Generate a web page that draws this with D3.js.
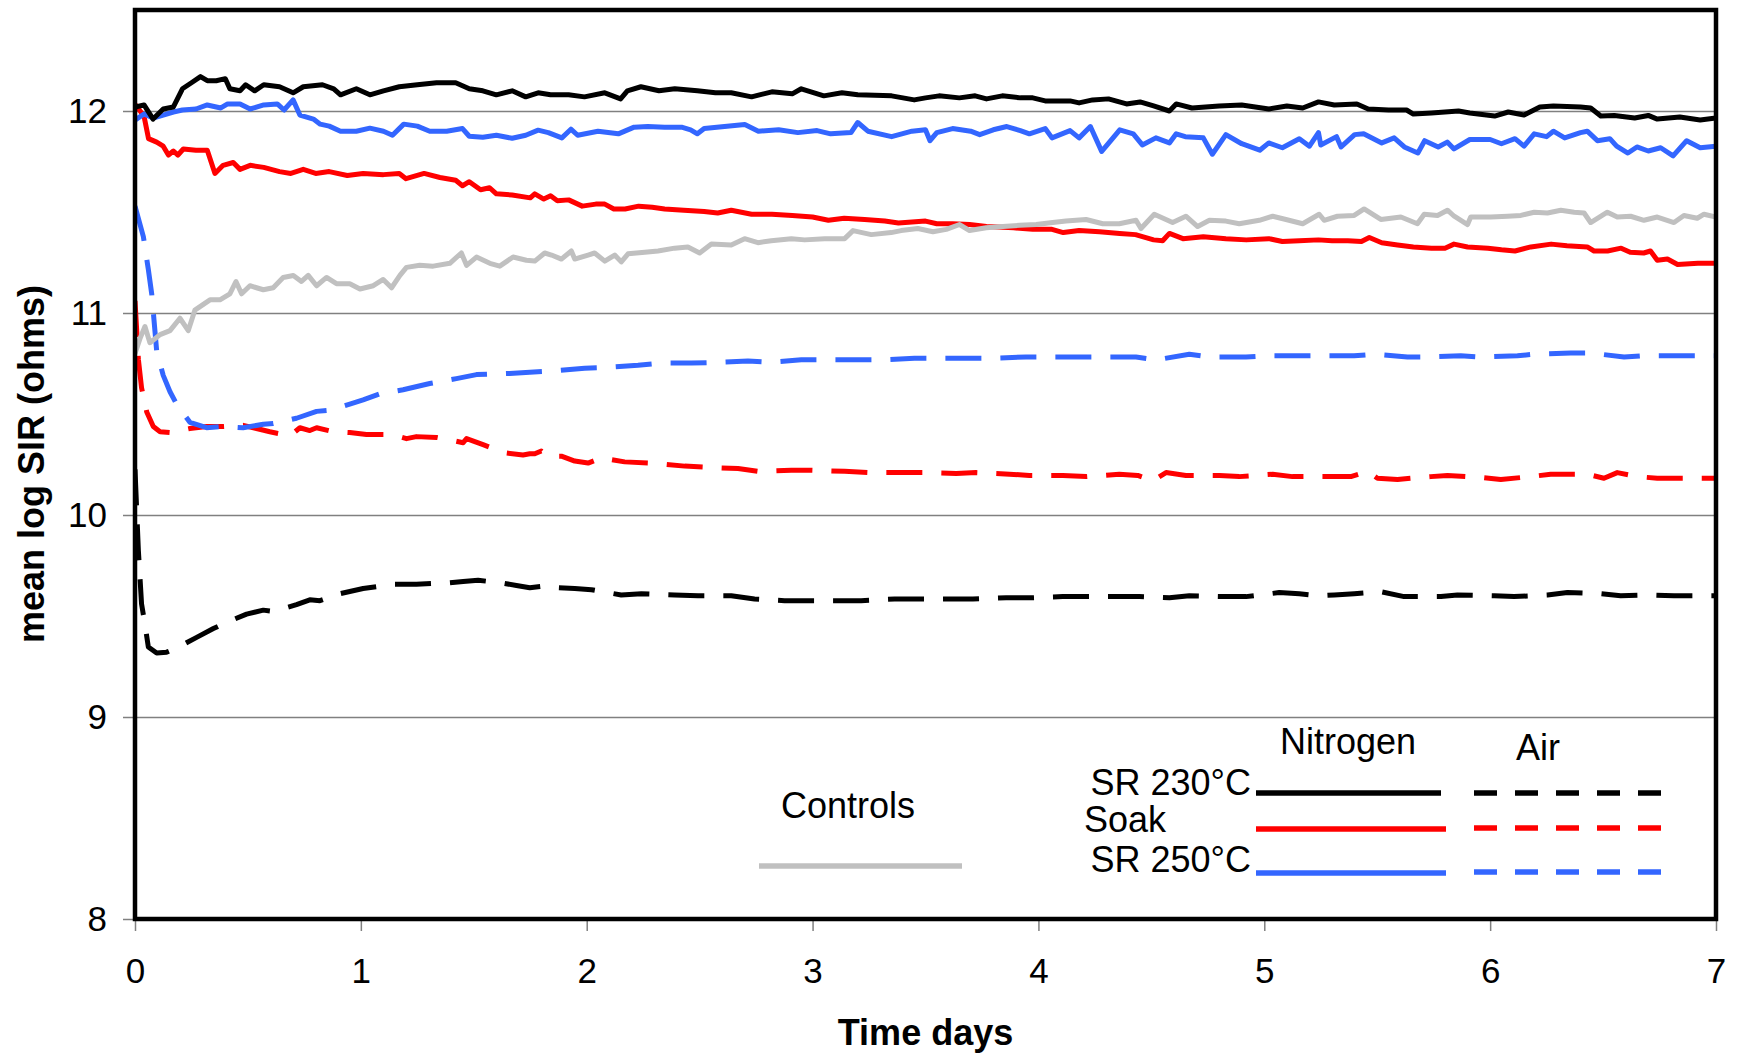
<!DOCTYPE html>
<html>
<head>
<meta charset="utf-8">
<script src="https://cdn.jsdelivr.net/npm/d3@7/dist/d3.min.js"></script>
<style>
body { margin: 0; background: #fff; }
text { font-family: "Liberation Sans", Arial, sans-serif; fill: #000; }
</style>
</head>
<body>
<script>
// tick values
var xTicks = [0, 1, 2, 3, 4, 5, 6, 7];
var yTicks = [8, 9, 10, 11, 12];

// [day, mean log SIR]
var sr230N2 = [[0,12.02],[0.04,12.03],[0.08,11.96],[0.125,12.01],[0.17,12.02],[0.21,12.11],[0.25,12.14],[0.29,12.17],[0.32,12.15],[0.36,12.15],[0.40,12.16],[0.42,12.11],[0.465,12.10],[0.49,12.13],[0.53,12.10],[0.57,12.13],[0.64,12.12],[0.70,12.09],[0.745,12.12],[0.83,12.13],[0.88,12.11],[0.91,12.08],[0.98,12.11],[1.04,12.08],[1.10,12.10],[1.17,12.12],[1.25,12.13],[1.335,12.14],[1.42,12.14],[1.48,12.11],[1.54,12.10],[1.60,12.08],[1.67,12.10],[1.73,12.07],
  [1.785,12.09],[1.84,12.08],[1.92,12.08],[1.99,12.07],[2.08,12.09],[2.15,12.06],[2.18,12.10],[2.24,12.12],[2.32,12.10],[2.39,12.11],[2.49,12.10],[2.57,12.09],[2.64,12.09],[2.73,12.07],[2.82,12.095],[2.91,12.085],[2.95,12.11],[3.05,12.075],[3.13,12.09],[3.20,12.08],[3.35,12.075],[3.45,12.055],[3.50,12.065],
  [3.56,12.075],[3.65,12.065],[3.72,12.075],[3.77,12.06],[3.84,12.075],[3.92,12.065],[3.975,12.065],[4.03,12.05],[4.14,12.05],[4.18,12.04],[4.24,12.055],[4.31,12.06],[4.39,12.035],[4.45,12.045],[4.51,12.025],[4.58,12.0],[4.61,12.035],[4.68,12.015],[4.80,12.025],[4.90,12.03],[5.02,12.01],[5.10,12.025],[5.17,12.015],[5.24,12.045],
  [5.31,12.03],[5.41,12.035],[5.46,12.01],[5.55,12.005],[5.63,12.005],[5.66,11.985],[5.74,11.99],[5.86,12.0],[5.91,11.99],[6.02,11.975],[6.08,11.995],[6.15,11.98],[6.22,12.02],[6.28,12.025],[6.40,12.02],[6.445,12.015],[6.49,11.975],[6.55,11.978],[6.64,11.965],[6.70,11.978],[6.74,11.96],[6.84,11.97],[6.93,11.955],[7.0,11.965]];

var soakN2 = [[0,12.034],[0.04,11.974],[0.06,11.863],[0.096,11.846],[0.125,11.826],[0.148,11.782],[0.17,11.802],[0.19,11.782],[0.214,11.812],[0.27,11.806],[0.32,11.806],[0.354,11.691],[0.39,11.731],[0.435,11.745],[0.465,11.711],[0.51,11.731],[0.57,11.721],[0.64,11.70],[0.69,11.691],[0.745,11.711],[0.80,11.691],[0.86,11.70],[0.94,11.681],[1.01,11.691],[1.10,11.685],[1.17,11.691],[1.20,11.665],[1.28,11.691],[1.35,11.671],[1.42,11.657],[1.45,11.63],[1.48,11.65],[1.53,11.61],[1.57,11.62],[1.60,11.59],[1.67,11.584],[1.75,11.57],
  [1.77,11.59],[1.81,11.564],[1.84,11.58],[1.87,11.556],[1.92,11.56],[1.98,11.529],[2.04,11.539],[2.08,11.539],[2.12,11.515],[2.17,11.515],[2.23,11.529],[2.29,11.523],[2.345,11.515],[2.43,11.509],[2.52,11.503],[2.58,11.495],[2.64,11.509],[2.73,11.489],[2.82,11.489],[2.91,11.483],[3.00,11.475],[3.07,11.459],[3.14,11.469],[3.23,11.463],[3.32,11.455],[3.38,11.446],[3.50,11.455],
  [3.55,11.442],[3.62,11.442],[3.695,11.438],[3.77,11.428],[3.89,11.422],[3.975,11.414],[4.06,11.414],[4.11,11.398],[4.18,11.408],[4.27,11.402],[4.36,11.394],[4.43,11.388],[4.51,11.362],[4.55,11.358],[4.58,11.394],[4.64,11.368],[4.73,11.378],[4.83,11.368],[4.92,11.362],[5.02,11.368],[5.08,11.354],[5.155,11.358],[5.24,11.362],
  [5.30,11.358],[5.37,11.358],[5.43,11.354],[5.465,11.374],[5.52,11.348],[5.59,11.337],[5.66,11.327],[5.74,11.321],[5.80,11.321],[5.84,11.341],[5.90,11.327],[5.99,11.321],[6.05,11.313],[6.11,11.307],[6.18,11.327],[6.27,11.341],[6.34,11.333],[6.43,11.327],[6.46,11.307],[6.52,11.307],[6.58,11.321],[6.62,11.301],[6.68,11.297],[6.71,11.307],[6.74,11.261],[6.785,11.267],[6.83,11.24],[6.92,11.246],[7.0,11.246]];

var sr250N2 = [[0,11.955],[0.04,11.985],[0.08,11.965],[0.125,11.98],[0.17,11.995],[0.21,12.005],[0.27,12.01],[0.32,12.03],[0.38,12.015],[0.41,12.035],[0.465,12.035],[0.51,12.01],[0.57,12.03],[0.63,12.035],[0.66,12.005],[0.70,12.055],[0.73,11.98],[0.79,11.96],[0.82,11.935],[0.86,11.925],[0.91,11.90],[0.98,11.90],[1.04,11.915],[1.10,11.90],[1.14,11.88],[1.19,11.935],[1.25,11.925],[1.305,11.90],[1.38,11.90],[1.45,11.913],[1.48,11.875],[1.54,11.87],[1.60,11.88],[1.67,11.865],[1.73,11.88],
  [1.785,11.905],[1.83,11.893],[1.89,11.867],[1.93,11.91],[1.96,11.88],[2.05,11.90],[2.14,11.887],[2.21,11.92],[2.27,11.923],[2.345,11.92],[2.42,11.92],[2.46,11.907],[2.49,11.887],[2.52,11.913],[2.61,11.923],[2.70,11.933],[2.76,11.90],[2.85,11.907],[2.935,11.893],[3.02,11.903],[3.08,11.887],[3.17,11.893],[3.20,11.943],[3.245,11.90],[3.35,11.873],[3.44,11.90],[3.50,11.907],
  [3.52,11.853],[3.55,11.893],[3.62,11.913],[3.70,11.90],[3.74,11.883],[3.80,11.907],[3.86,11.923],[3.92,11.903],[3.96,11.887],[4.03,11.913],[4.06,11.867],[4.14,11.903],[4.18,11.867],[4.23,11.923],[4.28,11.80],[4.31,11.84],[4.36,11.907],[4.42,11.887],[4.46,11.832],[4.52,11.867],[4.58,11.842],[4.61,11.887],[4.65,11.873],[4.73,11.867],[4.77,11.786],[4.83,11.883],[4.90,11.838],[4.98,11.806],[5.02,11.842],[5.08,11.818],[5.155,11.863],[5.20,11.826],[5.24,11.893],
  [5.25,11.832],[5.32,11.873],[5.34,11.822],[5.40,11.883],[5.44,11.887],[5.52,11.842],[5.575,11.867],[5.62,11.822],[5.68,11.792],[5.71,11.853],[5.77,11.822],[5.81,11.846],[5.84,11.812],[5.91,11.859],[6.00,11.859],[6.05,11.838],[6.11,11.863],[6.15,11.826],[6.195,11.887],[6.25,11.873],[6.28,11.90],[6.33,11.867],[6.40,11.893],[6.43,11.90],[6.475,11.853],[6.53,11.863],[6.56,11.826],[6.61,11.792],[6.65,11.822],[6.70,11.802],[6.755,11.818],[6.81,11.778],[6.87,11.853],[6.93,11.818],[7.0,11.826]];

var controls = [[0,10.80],[0.022,10.873],[0.044,10.933],[0.066,10.853],[0.111,10.893],[0.155,10.913],[0.199,10.974],[0.236,10.913],[0.265,11.014],[0.332,11.065],[0.376,11.065],[0.42,11.095],[0.447,11.156],[0.472,11.095],[0.509,11.135],[0.538,11.125],[0.568,11.115],[0.612,11.125],[0.656,11.176],[0.701,11.186],[0.737,11.156],[0.767,11.186],[0.804,11.135],[0.848,11.176],[0.892,11.145],[0.951,11.145],[0.996,11.119],[1.055,11.135],[1.099,11.166],[1.136,11.125],[1.173,11.186],[1.202,11.226],[1.261,11.236],[1.32,11.232],[1.394,11.246],[1.445,11.297],[1.468,11.236],[1.512,11.277],[1.571,11.246],[1.615,11.232],[1.674,11.277],[1.733,11.261],
  [1.77,11.257],[1.814,11.297],[1.844,11.287],[1.888,11.267],[1.932,11.307],[1.947,11.267],[2.006,11.287],[2.035,11.297],[2.08,11.257],[2.124,11.287],[2.153,11.253],[2.183,11.293],[2.257,11.301],[2.316,11.307],[2.389,11.321],[2.448,11.327],[2.50,11.297],[2.552,11.341],[2.64,11.337],[2.699,11.368],[2.758,11.348],[2.817,11.358],[2.906,11.368],[2.965,11.362],[3.053,11.368],[3.142,11.368],[3.179,11.408],[3.26,11.388],[3.348,11.398],[3.392,11.408],[3.466,11.418],
  [3.533,11.402],[3.592,11.414],[3.651,11.438],[3.695,11.408],[3.769,11.422],[3.842,11.428],[3.916,11.434],[3.99,11.438],[4.063,11.448],[4.122,11.455],[4.211,11.463],[4.285,11.442],[4.358,11.442],[4.432,11.459],[4.454,11.418],[4.513,11.489],[4.594,11.448],[4.653,11.479],[4.705,11.428],[4.757,11.459],[4.83,11.455],[4.889,11.442],[4.978,11.459],[5.037,11.479],[5.096,11.463],[5.17,11.442],[5.243,11.489],
  [5.265,11.459],[5.324,11.479],[5.398,11.483],[5.442,11.515],[5.516,11.463],[5.605,11.475],[5.678,11.442],[5.708,11.489],[5.767,11.483],[5.811,11.509],[5.841,11.479],[5.90,11.438],[5.914,11.475],[6.003,11.475],[6.077,11.479],[6.136,11.483],[6.195,11.499],[6.254,11.495],[6.313,11.509],[6.372,11.499],[6.416,11.495],[6.445,11.448],[6.519,11.499],[6.563,11.475],[6.622,11.479],[6.681,11.459],[6.74,11.475],[6.814,11.448],[6.858,11.483],[6.917,11.469],[6.947,11.489],[7.0,11.475]];

var sr230Air = [[0,10.226],[0.015,9.822],[0.029,9.56],[0.044,9.459],[0.059,9.347],[0.096,9.317],[0.14,9.321],[0.184,9.341],[0.273,9.394],[0.347,9.438],[0.406,9.469],[0.494,9.509],[0.568,9.529],[0.612,9.523],[0.715,9.556],[0.774,9.58],[0.819,9.576],[0.907,9.61],[1.01,9.636],[1.143,9.657],[1.246,9.657],[1.394,9.665],[1.453,9.671],[1.519,9.677],[1.615,9.665],[1.689,9.651],[1.748,9.64],
  [1.829,9.651],[1.873,9.64],[1.947,9.636],[2.021,9.63],[2.153,9.604],[2.242,9.61],[2.389,9.604],[2.493,9.60],[2.64,9.60],[2.743,9.584],[2.876,9.576],[2.979,9.576],[3.127,9.576],[3.215,9.576],[3.363,9.584],[3.466,9.584],
  [3.606,9.584],[3.71,9.584],[3.857,9.59],[3.96,9.59],[4.108,9.596],[4.196,9.596],[4.344,9.596],[4.447,9.596],[4.58,9.59],[4.668,9.60],[4.816,9.596],[4.919,9.596],[5.066,9.616],[5.155,9.61],[5.243,9.60],
  [5.310,9.604],[5.398,9.61],[5.516,9.62],[5.619,9.596],[5.782,9.596],[5.855,9.604],[6.018,9.60],[6.106,9.596],[6.254,9.604],[6.342,9.616],[6.490,9.61],[6.578,9.60],[6.711,9.604],[6.814,9.60],[6.962,9.60],[7.0,9.60]];

var soakAir = [[0,11.06],[0.015,10.77],[0.029,10.63],[0.052,10.51],[0.081,10.438],[0.111,10.412],[0.155,10.408],[0.243,10.428],[0.317,10.438],[0.391,10.438],[0.479,10.444],[0.538,10.428],[0.597,10.412],[0.686,10.392],[0.73,10.432],[0.774,10.418],[0.804,10.432],[0.878,10.412],[0.951,10.408],[1.025,10.398],[1.114,10.398],[1.158,10.392],[1.202,10.378],[1.246,10.388],[1.335,10.384],[1.394,10.372],[1.453,10.358],[1.468,10.378],[1.541,10.348],[1.60,10.323],[1.645,10.307],[1.718,10.297],[1.748,10.303],
  [1.77,10.303],[1.799,10.317],[1.829,10.291],[1.888,10.291],[1.947,10.267],[2.006,10.257],[2.065,10.283],[2.168,10.263],[2.286,10.257],[2.434,10.242],[2.537,10.236],[2.67,10.23],[2.758,10.216],[2.906,10.222],[2.994,10.222],[3.142,10.216],[3.245,10.21],[3.392,10.21],[3.496,10.21],
  [3.636,10.206],[3.724,10.21],[3.872,10.202],[3.96,10.196],[4.108,10.196],[4.211,10.19],[4.358,10.202],[4.44,10.196],[4.506,10.17],[4.565,10.21],[4.653,10.196],[4.801,10.196],[4.889,10.19],[5.037,10.202],[5.125,10.19],[5.243,10.19],
  [5.295,10.19],[5.383,10.19],[5.457,10.216],[5.501,10.182],[5.59,10.176],[5.737,10.19],[5.811,10.196],[5.959,10.186],[6.047,10.176],[6.18,10.19],[6.268,10.202],[6.431,10.202],[6.504,10.182],[6.563,10.21],[6.652,10.19],[6.74,10.182],[6.888,10.182],[7.0,10.182]];

var sr250Air = [[0,11.529],[0.037,11.378],[0.059,11.216],[0.074,11.095],[0.096,10.812],[0.125,10.691],[0.155,10.61],[0.184,10.549],[0.243,10.459],[0.317,10.432],[0.391,10.438],[0.479,10.432],[0.568,10.449],[0.612,10.453],[0.715,10.479],[0.804,10.513],[0.863,10.519],[0.951,10.549],[1.01,10.57],[1.084,10.60],[1.187,10.62],[1.305,10.651],[1.423,10.675],[1.512,10.695],[1.659,10.701],[1.748,10.707],
  [1.873,10.715],[1.991,10.727],[2.094,10.731],[2.227,10.741],[2.33,10.752],[2.463,10.752],[2.581,10.756],[2.714,10.762],[2.817,10.756],[2.95,10.768],[3.053,10.768],[3.201,10.768],[3.304,10.768],[3.451,10.776],
  [3.547,10.776],[3.695,10.776],[3.783,10.776],[3.945,10.782],[4.034,10.782],[4.181,10.782],[4.277,10.782],[4.432,10.782],[4.521,10.768],[4.668,10.796],[4.757,10.782],[4.919,10.782],[5.007,10.788],[5.155,10.788],
  [5.251,10.788],[5.398,10.788],[5.487,10.796],[5.634,10.782],[5.723,10.782],[5.870,10.788],[5.959,10.782],[6.121,10.788],[6.195,10.796],[6.357,10.802],[6.445,10.802],[6.593,10.782],[6.667,10.788],[6.829,10.788],[6.917,10.788],[7.0,10.788]];

// plot box (window.top is taken, so prefixed names)
var pLeft = 135, pRight = 1716, pTop = 10, pBottom = 919;

var svg = d3.select("body").append("svg")
    .attr("width", 1738)
    .attr("height", 1054);

var x = d3.scaleLinear().domain([0, 7]).range([pLeft, pRight]);
var y = d3.scaleLinear().domain([8, 12.5]).range([pBottom, pTop]);

// gridlines + y tick labels (ticks stick out 12px to the left)
var yAxis = svg.append("g")
    .attr("transform", "translate(" + (pLeft - 12) + ",0)")
    .call(d3.axisLeft(y)
        .tickValues(yTicks)
        .tickSizeInner(-(pRight - pLeft + 12))
        .tickSizeOuter(0)
        .tickPadding(16)
        .tickFormat(d3.format("d")));
yAxis.select(".domain").remove();
yAxis.selectAll("line").attr("stroke", "#808080").attr("stroke-width", 1.5);
yAxis.selectAll("text").attr("font-size", 35).attr("fill", "#000")
    .style("font-family", "'Liberation Sans', Arial, sans-serif");

var xAxis = svg.append("g")
    .attr("transform", "translate(0," + pBottom + ")")
    .call(d3.axisBottom(x)
        .tickValues(xTicks)
        .tickSize(12)
        .tickPadding(27)
        .tickFormat(d3.format("d")));
xAxis.select(".domain").remove();
xAxis.selectAll("line").attr("stroke", "#808080").attr("stroke-width", 1.5);
xAxis.selectAll("text").attr("font-size", 35).attr("fill", "#000")
    .style("font-family", "'Liberation Sans', Arial, sans-serif");

svg.append("clipPath").attr("id", "plotclip")
  .append("rect")
    .attr("x", pLeft).attr("y", pTop)
    .attr("width", pRight - pLeft).attr("height", pBottom - pTop);

var line = d3.line()
    .x(function(d) { return x(d[0]); })
    .y(function(d) { return y(d[1]); });

var series = [
  {data: sr230Air, color: "#000000", dash: "36,19"},
  {data: soakAir,  color: "#ff0000", dash: "36,19"},
  {data: sr250Air, color: "#3366ff", dash: "36,19"},
  {data: soakN2,   color: "#ff0000", dash: null},
  {data: controls, color: "#c0c0c0", dash: null},
  {data: sr250N2,  color: "#3366ff", dash: null},
  {data: sr230N2,  color: "#000000", dash: null}
];

svg.append("g").attr("clip-path", "url(#plotclip)")
  .selectAll(".series")
  .data(series)
  .enter().append("path")
    .attr("class", "series")
    .attr("d", function(d) { return line(d.data); })
    .attr("fill", "none")
    .attr("stroke", function(d) { return d.color; })
    .attr("stroke-width", 5)
    .attr("stroke-linejoin", "round")
    .attr("stroke-dasharray", function(d) { return d.dash; });

// plot frame
svg.append("rect")
    .attr("x", pLeft).attr("y", pTop)
    .attr("width", pRight - pLeft).attr("height", pBottom - pTop)
    .attr("fill", "none")
    .attr("stroke", "#000")
    .attr("stroke-width", 4.5);

// axis titles
svg.append("text")
    .attr("x", (pLeft + pRight) / 2)
    .attr("y", 1045)
    .attr("text-anchor", "middle")
    .attr("font-size", 36)
    .attr("font-weight", "bold")
    .text("Time days");

svg.append("text")
    .attr("transform", "translate(44,464) rotate(-90)")
    .attr("text-anchor", "middle")
    .attr("font-size", 36)
    .attr("font-weight", "bold")
    .text("mean log SIR (ohms)");

// legend
var legendText = [
  {t: "Nitrogen", x: 1348, y: 754, a: "middle"},
  {t: "Air", x: 1538, y: 760, a: "middle"},
  {t: "SR 230°C", x: 1251, y: 795, a: "end"},
  {t: "Soak", x: 1084, y: 832, a: "start"},
  {t: "SR 250°C", x: 1251, y: 872, a: "end"},
  {t: "Controls", x: 848, y: 818, a: "middle"}
];
svg.selectAll(".legtext")
  .data(legendText)
  .enter().append("text")
    .attr("class", "legtext")
    .attr("x", function(d) { return d.x; })
    .attr("y", function(d) { return d.y; })
    .attr("text-anchor", function(d) { return d.a; })
    .attr("font-size", 36)
    .text(function(d) { return d.t; });

var legendLines = [
  {x1: 1256, x2: 1441, y: 793, color: "#000000", dash: null},
  {x1: 1474, x2: 1663, y: 793, color: "#000000", dash: "23,18"},
  {x1: 1256, x2: 1446, y: 829, color: "#ff0000", dash: null},
  {x1: 1474, x2: 1663, y: 828, color: "#ff0000", dash: "23,18"},
  {x1: 1256, x2: 1446, y: 873, color: "#3366ff", dash: null},
  {x1: 1474, x2: 1663, y: 872, color: "#3366ff", dash: "23,18"},
  {x1: 759, x2: 962, y: 866, color: "#c0c0c0", dash: null}
];
svg.selectAll(".legline")
  .data(legendLines)
  .enter().append("line")
    .attr("class", "legline")
    .attr("x1", function(d) { return d.x1; })
    .attr("x2", function(d) { return d.x2; })
    .attr("y1", function(d) { return d.y; })
    .attr("y2", function(d) { return d.y; })
    .attr("stroke", function(d) { return d.color; })
    .attr("stroke-width", 5.5)
    .attr("stroke-dasharray", function(d) { return d.dash; });
</script>
</body>
</html>
